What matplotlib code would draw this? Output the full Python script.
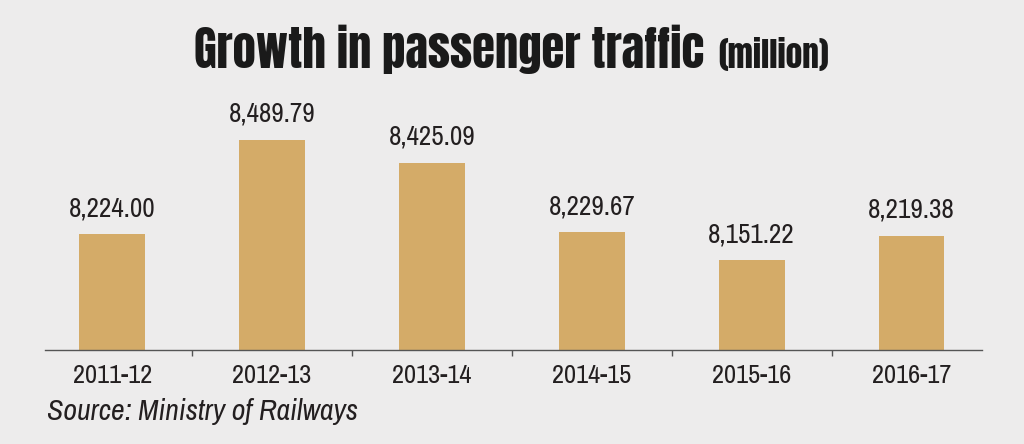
import matplotlib
matplotlib.use("Agg")
import matplotlib.pyplot as plt
import numpy as np

# data
years = ["2011-12", "2012-13", "2013-14", "2014-15", "2015-16", "2016-17"]
traffic = [8224.00, 8489.79, 8425.09, 8229.67, 8151.22, 8219.38]

bg = "#edecec"
bar_col = "#d4ab68"
txt_col = "#231f20"
narrow = ["Archivo Narrow", "Liberation Sans Narrow", "DejaVu Sans"]
heavy = ["Anton", "DejaVu Sans"]

fig = plt.figure(figsize=(10.24, 4.44), dpi=100, facecolor=bg)
ax = fig.add_axes([45 / 1024, (444 - 350) / 444, (982 - 45) / 1024, 290 / 444])
ax.set_facecolor(bg)

x = np.arange(len(years))
ax.bar(x, traffic, width=0.41, color=bar_col, zorder=2)

for xi, v in zip(x, traffic):
    ax.annotate(f"{v:,.2f}", (xi, v), xytext=(0, 13), textcoords="offset points",
                ha="center", va="baseline", fontsize=19.5, color=txt_col, family=narrow)

ax.set_xlim(-0.42, 5.44)
ax.set_ylim(7898, 8715)

for s in ["top", "left", "right"]:
    ax.spines[s].set_visible(False)
ax.spines["bottom"].set_color("#555555")
ax.spines["bottom"].set_linewidth(1.0)
ax.set_yticks([])

ax.set_xticks(x)
ax.set_xticklabels(years, fontsize=19, color=txt_col, family=narrow)
ax.tick_params(axis="x", which="major", length=0, pad=10)
ax.set_xticks(x[:-1] + 0.5, minor=True)
ax.tick_params(axis="x", which="minor", length=4, width=1, color="#555555")

# title in two parts
fig.text(704 / 1024, (444 - 68) / 444, "Growth in passenger traffic", ha="right", va="baseline",
         fontsize=33.5, color="#1a1a1a", family=heavy)
fig.text(718 / 1024, (444 - 68) / 444, "(million)", ha="left", va="baseline",
         fontsize=24, color="#1a1a1a", family=heavy)

fig.text(47 / 1024, (444 - 420) / 444, "Source: Ministry of Railways", ha="left", va="baseline",
         fontsize=21.5, style="italic", color=txt_col, family=narrow)

fig.savefig("out.png", dpi=100, facecolor=bg)
